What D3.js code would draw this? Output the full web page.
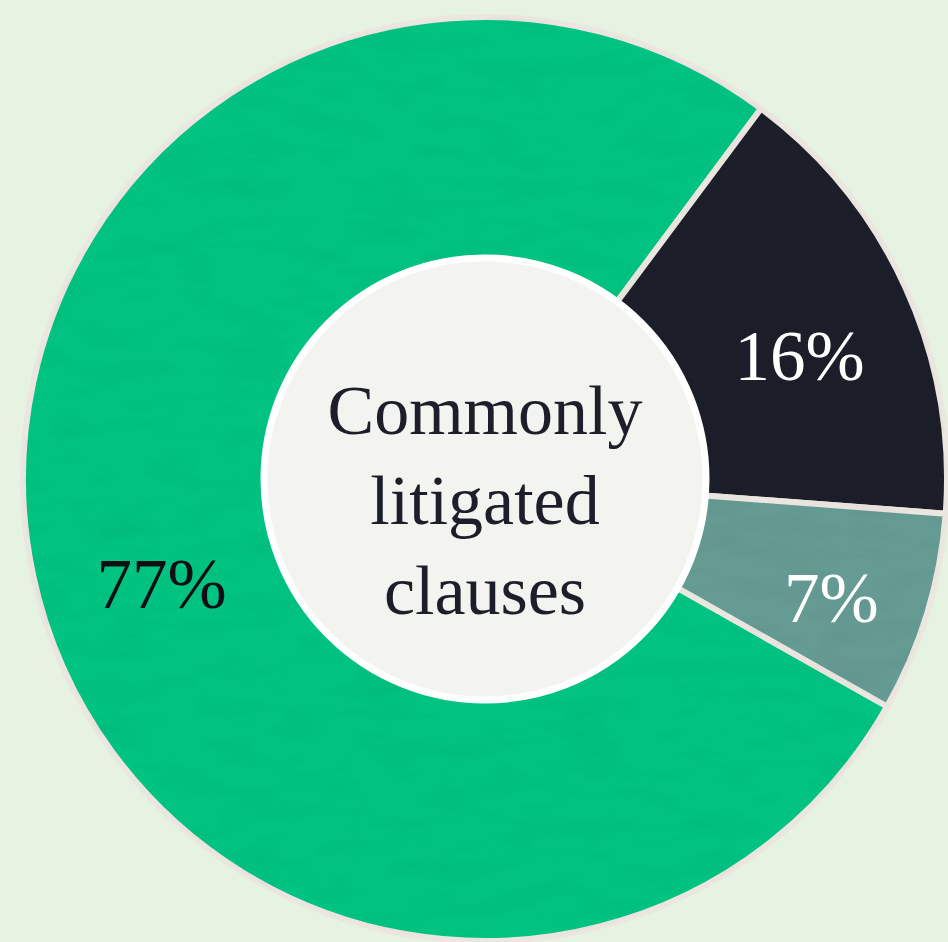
<!DOCTYPE html>
<html>
<head>
<meta charset="utf-8">
<script src="https://cdn.jsdelivr.net/npm/d3@7"></script>
<style>
  html, body { margin: 0; padding: 0; background: #e6f3e3; overflow: hidden; }
  text { font-family: "Liberation Serif", "DejaVu Serif", serif; }
</style>
</head>
<body>
<div id="chart"></div>
<script>
// data
const categories = ["Other clauses", "Category B", "Category C"]
const shares = [77, 16, 7]
const labels = ["77%", "16%", "7%"]
const centerLines = ["Commonly", "litigated", "clauses"]

const colors = ["#00c382", "#1c1f29", "#659b93"],
    labelColors = ["#0d0f14", "#ffffff", "#ffffff"]

const w = 948,
    h = 942,
    cx = 485,
    cy = 479,
    outerR = 462,
    innerR = 221

const svg = d3.select("#chart")
    .append("svg")
    .attr("width", w)
    .attr("height", h)

// faint paper grain
const defs = svg.append("defs")
const grain = defs.append("filter")
    .attr("id", "grain")
    .attr("x", 0).attr("y", 0).attr("width", "100%").attr("height", "100%")
grain.append("feTurbulence")
    .attr("type", "fractalNoise")
    .attr("baseFrequency", "0.015 0.05")
    .attr("numOctaves", 3)
    .attr("seed", 4)
grain.append("feColorMatrix")
    .attr("values", "0 0 0 0 0  0 0 0 0 0  0 0 0 0 0  0 0 0 0.9 -0.35")
defs.append("clipPath").attr("id", "ring")
    .append("circle").attr("r", outerR)

svg.append("rect")
    .attr("width", w)
    .attr("height", h)
    .attr("fill", "#e6f3e3")

const g = svg.append("g")
    .attr("transform", `translate(${cx},${cy})`)

const start = 119.5 * Math.PI / 180
const pie = d3.pie()
    .sort(null)
    .startAngle(start)
    .endAngle(start + 2 * Math.PI)

const arcs = pie(shares)

const arc = d3.arc()
    .innerRadius(0)
    .outerRadius(outerR)

g.selectAll("path.slice")
    .data(arcs)
    .enter()
    .append("path")
    .attr("class", "slice")
    .attr("d", arc)
    .attr("fill", (d, i) => colors[i])
    .attr("stroke", "#ebe7e0")
    .attr("stroke-width", 6)
    .attr("stroke-linejoin", "round")

g.append("rect") // grain overlay, under the center disc
    .attr("x", -outerR)
    .attr("y", -outerR)
    .attr("width", 2 * outerR)
    .attr("height", 2 * outerR)
    .attr("clip-path", "url(#ring)")
    .attr("filter", "url(#grain)")
    .attr("opacity", 0.07)

//center disc
g.append("circle")
    .attr("r", innerR)
    .attr("fill", "#f3f4ef")
    .attr("stroke", "#ffffff")
    .attr("stroke-width", 7)

g.append("text")
    .attr("text-anchor", "middle")
    .attr("fill", "#1c1f29")
    .attr("font-size", 70)
    .selectAll("tspan")
    .data(centerLines)
    .enter()
    .append("tspan")
    .attr("x", 0)
    .attr("y", (d, i) => -45 + i * 90)
    .text(d => d)

// percentage labels
const labelR = [340, 338, 366],
    labelTurn = [-6, 3, 2] // degrees, nudges to sit like the original

g.selectAll("text.pct")
    .data(arcs)
    .enter()
    .append("text")
    .attr("class", "pct")
    .attr("text-anchor", "middle")
    .attr("dy", "0.35em")
    .attr("font-size", 71)
    .attr("fill", (d, i) => labelColors[i])
    .attr("transform", (d, i) => {
        const a = (d.startAngle + d.endAngle) / 2 + labelTurn[i] * Math.PI / 180
        return `translate(${labelR[i] * Math.sin(a)},${-labelR[i] * Math.cos(a)})`
    })
    .text((d, i) => labels[i])
</script>
</body>
</html>
